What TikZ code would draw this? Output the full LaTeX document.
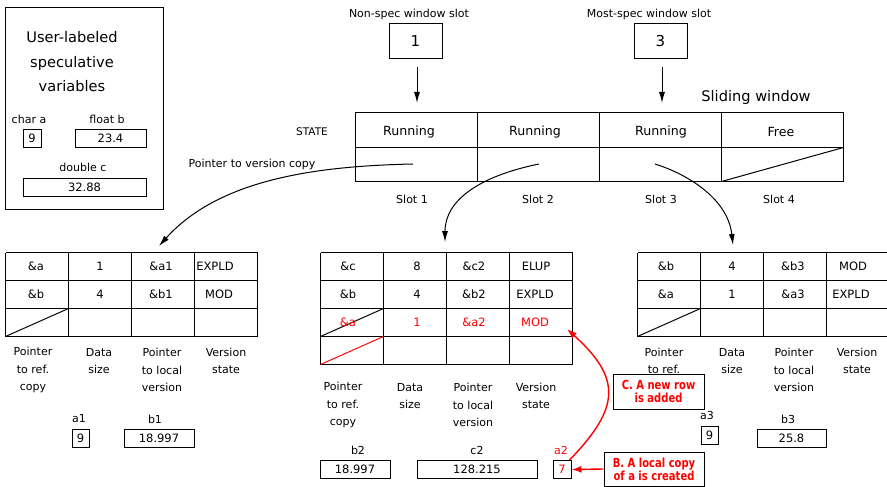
\documentclass[tikz,border=0pt]{standalone}
\usepackage{fontspec}
\setmainfont{DejaVu Sans}
\newfontfamily\notefont[FakeStretch=0.8]{DejaVu Sans}
\usetikzlibrary{arrows.meta}
\begin{document}
\begin{tikzpicture}[x=1pt,y=-1pt,line width=1pt,
  lbl/.style={inner sep=0pt,align=center,font=\fontsize{11}{17.5}\selectfont},
  small/.style={inner sep=0pt,font=\fontsize{10.5}{12}\selectfont},
  title/.style={inner sep=0pt,align=center,font=\fontsize{14.6}{24.5}\selectfont},
  cell/.style={inner sep=0pt,font=\fontsize{11.5}{13}\selectfont},
  wcell/.style={inner sep=0pt,font=\fontsize{12.6}{14}\selectfont},
  vbox/.style={draw,inner sep=0pt,minimum height=18pt,font=\fontsize{11.5}{13}\selectfont},
  slotbox/.style={draw,inner sep=0pt,minimum width=53pt,minimum height=35pt,font=\fontsize{15}{18}\selectfont},
  arr/.style={-{Latex[length=11pt,width=6pt]}},
  redarr/.style={red,line width=1.4pt,-{Latex[length=10pt,width=7pt]}},
  note/.style={draw,fill=white,inner sep=0pt,align=center,text=red,font=\notefont\bfseries\fontsize{12.5}{13}\selectfont},
]
\useasboundingbox (0,0) rectangle (887,487);

% left panel
\node[draw,minimum width=158pt,minimum height=202pt,inner sep=0pt] (panel) at (84.5,108.5) {};
\node[title] (ptitle) at (72,62) {User-labeled\\speculative\\variables};
\node[lbl] (chara) at (29,119) {char a};
\node[vbox,minimum width=18pt] (va) at (32,138) {9};
\node[lbl] (floatb) at (107,119) {float b};
\node[vbox,minimum width=71pt] (vb) at (110.5,138) {23.4};
\node[lbl] (doublec) at (83,167) {double c};
\node[vbox,minimum width=123pt] (vc) at (84.5,187) {32.88};

% window slots
\node[lbl] (nonspec) at (409,14) {Non-spec window slot};
\node[slotbox] (one) at (415.5,41.5) {1};
\node[lbl] (mostspec) at (649,14) {Most-spec window slot};
\node[slotbox] (three) at (660.5,41.5) {3};
\node[title] (slidw) at (756,97) {Sliding window};

% sliding window grid
\draw (355.5,112.5) rectangle (843.5,181.5);
\draw (355.5,147.5) -- (843.5,147.5);
\foreach \x in {477.5,599.5,721.5} \draw (\x,112.5) -- (\x,181.5);
\draw (721.5,181.5) -- (843.5,147.5);
\node[wcell] (w1) at (409,132) {Running};
\node[wcell] (w2) at (535,132) {Running};
\node[wcell] (w3) at (661,132) {Running};
\node[wcell] (w4) at (781,132) {Free};
\coordinate (wp1) at (413,164);
\coordinate (wp2) at (539,164);
\coordinate (wp3) at (655,164);
\coordinate (wtop1) at (417,112);
\coordinate (wtop3) at (662,112);
\node[small] (state) at (312,132) {STATE};
\node[lbl] (ptrv) at (252,164) {Pointer to version copy};
\node[lbl] (slot1) at (412,199) {Slot 1};
\node[lbl] (slot2) at (538,199) {Slot 2};
\node[lbl] (slot3) at (661,199) {Slot 3};
\node[lbl] (slot4) at (779,199) {Slot 4};

\draw[arr] ([yshift=-8pt]one.south -| wtop1) -- ([yshift=9pt]wtop1);
\draw[arr] ([yshift=-8pt]three.south -| wtop3) -- ([yshift=9pt]wtop3);

% table 1
\foreach \i in {0,...,4} \draw (5.5+63*\i,252.5) -- (5.5+63*\i,336.5);
\foreach \j in {0,...,3} \draw (5.5,252.5+28*\j) -- (257.5,252.5+28*\j);
\draw (5.5,336.5) -- (68.5,308.5);
\node[cell] (t1a) at (36,266) {\&a};
\node[cell] (t1b) at (100,266) {1};
\node[cell] (t1c) at (161,266) {\&a1};
\node[cell] (t1d) at (215,266) {EXPLD};
\node[cell] (t1e) at (36,294) {\&b};
\node[cell] (t1f) at (100,294) {4};
\node[cell] (t1g) at (161,294) {\&b1};
\node[cell] (t1h) at (219,294) {MOD};
\coordinate (t1top) at (159,246);

% table 2
\foreach \i in {0,...,4} \draw (320.5+63*\i,252.5) -- (320.5+63*\i,364.5);
\foreach \j in {0,...,4} \draw (320.5,252.5+28*\j) -- (572.5,252.5+28*\j);
\draw (320.5,336.5) -- (383.5,308.5);
\draw[red] (320.5,364.5) -- (383.5,336.5);
\node[cell] (t2a) at (348,266) {\&c};
\node[cell] (t2b) at (417,266) {8};
\node[cell] (t2c) at (474,266) {\&c2};
\node[cell] (t2d) at (536,266) {ELUP};
\node[cell] (t2e) at (348,294) {\&b};
\node[cell] (t2f) at (417,294) {4};
\node[cell] (t2g) at (474,294) {\&b2};
\node[cell] (t2h) at (535,294) {EXPLD};
\node[cell,text=red] (t2i) at (348,322) {\&a};
\node[cell,text=red] (t2j) at (417,322) {1};
\node[cell,text=red] (t2k) at (474,322) {\&a2};
\node[cell,text=red] (t2l) at (535,322) {MOD};
\coordinate (t2top) at (445,242);
\coordinate (t2mod) at (567,329);

% table 3
\foreach \i in {0,...,4} \draw (637.5+63*\i,252.5) -- (637.5+63*\i,336.5);
\foreach \j in {0,...,3} \draw (637.5,252.5+28*\j) -- (889,252.5+28*\j);
\draw (637.5,336.5) -- (700.5,308.5);
\node[cell] (t3a) at (666,266) {\&b};
\node[cell] (t3b) at (732,266) {4};
\node[cell] (t3c) at (793,266) {\&b3};
\node[cell] (t3d) at (853,266) {MOD};
\node[cell] (t3e) at (666,294) {\&a};
\node[cell] (t3f) at (732,294) {1};
\node[cell] (t3g) at (793,294) {\&a3};
\node[cell] (t3h) at (851,294) {EXPLD};
\coordinate (t3top) at (733,245);

% column labels
\node[lbl] (l1a) at (33,370) {Pointer\\to ref.\\copy};
\node[lbl] (l1b) at (99,361) {Data\\size};
\node[lbl] (l1c) at (162,370) {Pointer\\to local\\version};
\node[lbl] (l1d) at (226,361) {Version\\state};

\node[lbl] (l2a) at (343,405) {Pointer\\to ref.\\copy};
\node[lbl] (l2b) at (410,396) {Data\\size};
\node[lbl] (l2c) at (473,405) {Pointer\\to local\\version};
\node[lbl] (l2d) at (536,396) {Version\\state};

\node[lbl] (l3a) at (664,361) {Pointer\\to ref.};
\node[lbl] (l3b) at (732,361) {Data\\size};
\node[lbl] (l3c) at (794,370) {Pointer\\to local\\version};
\node[lbl] (l3d) at (857,361) {Version\\state};

% local values
\node[lbl] (a1l) at (79,419) {a1};
\node[vbox,minimum width=17pt] (a1b) at (80.5,438) {9};
\node[lbl] (b1l) at (155,419) {b1};
\node[vbox,minimum width=70pt] (b1b) at (159,438) {18.997};

\node[lbl] (b2l) at (358,450) {b2};
\node[vbox,minimum width=70pt] (b2b) at (355,469.5) {18.997};
\node[lbl] (c2l) at (477,450) {c2};
\node[vbox,minimum width=120pt] (c2b) at (477,469.5) {128.215};
\node[lbl,text=red] (a2l) at (561,450) {a2};
\node[vbox,minimum width=18pt,text=red] (a2box) at (562,469.5) {7};

\node[lbl] (a3l) at (707,415) {a3};
\node[vbox,minimum width=17pt] (a3b) at (709.5,435.5) {9};
\node[lbl] (b3l) at (788,419) {b3};
\node[vbox,minimum width=69pt] (b3b) at (791.5,438) {25.8};

% pointer curves
\draw[arr] (wp1) .. controls (320,166) and (220,178) .. (t1top);
\draw[arr] (wp2) .. controls (480,176) and (445,200) .. (t2top);
\draw[arr] (wp3) .. controls (690,175) and (728,200) .. (t3top);

% notes
\node[note,minimum width=91pt,minimum height=35pt] (noteC) at (658.5,391.5) {C. A new row\\is added};
\node[note,minimum width=100pt,minimum height=34pt] (noteB) at (654,469) {B. A local copy\\of a is created};
\draw[redarr] (noteB.west) -- (a2box.east);
\draw[redarr] ([xshift=-2pt]a2box.north east) .. controls (621,407) and (621,378) .. (t2mod);
\end{tikzpicture}
\end{document}
